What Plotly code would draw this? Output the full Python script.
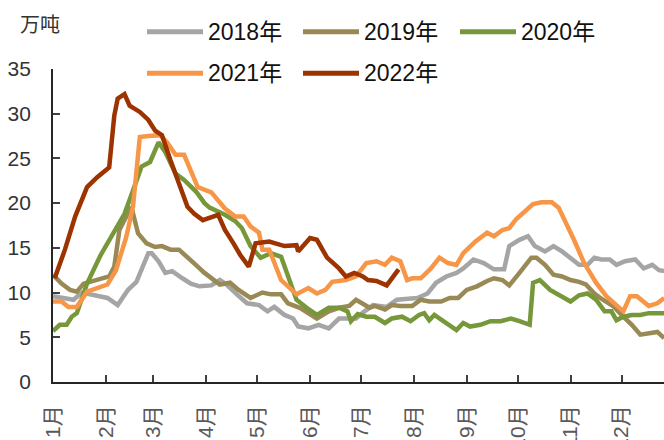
import pandas as pd
import plotly.graph_objects as go

# ---- data (day-of-year offset from 1 Jan, value in 万吨) ----
days_2018 = [0,6,12,17,26,32,38,44,49,56,58,62,66,70,76,81,86,93,98,102,108,114,121,126,130,136,141,144,150,156,162,168,174,178,183,188,196,202,214,220,225,231,237,241,247,253,259,265,268,274,279,283,289,294,299,304,309,314,318,322,327,331,336,342,347,352,356,359]
vals_2018 = [9.6,9.4,9.2,10.0,9.7,9.4,8.6,10.3,11.2,14.4,14.4,13.5,12.2,12.4,11.6,11.0,10.7,10.8,11.4,10.9,9.8,8.8,8.6,7.9,8.4,7.5,7.1,6.2,6.0,6.4,6.0,7.1,7.1,7.1,7.9,8.6,8.4,9.2,9.4,9.9,11.1,11.8,12.2,12.7,13.7,13.3,12.6,12.6,15.2,15.9,16.3,15.2,14.6,15.2,14.6,13.9,13.1,13.1,13.9,13.7,13.7,13.1,13.5,13.7,12.7,13.1,12.5,12.4]

days_2019 = [0,5,10,14,18,26,33,36,39,46,50,55,60,64,69,74,79,85,89,92,98,104,109,116,123,128,134,138,145,155,162,168,174,178,183,186,189,195,199,204,211,216,221,228,233,238,243,249,255,259,264,268,274,281,284,289,294,299,304,309,313,318,323,329,335,340,345,350,355,359]
vals_2019 = [12.0,11.0,10.3,10.1,11.0,11.4,11.8,12.9,17.0,19.6,16.6,15.5,15.1,15.2,14.8,14.8,14.0,12.9,12.2,11.8,10.9,11.1,10.3,9.4,10.0,9.8,9.8,8.8,8.3,7.1,7.9,8.3,8.5,9.2,8.6,8.3,8.5,8.1,8.6,8.5,8.5,9.2,9.0,9.0,9.4,9.4,10.3,10.7,11.3,11.6,11.4,10.8,12.2,13.9,13.9,13.1,12.0,11.8,11.4,11.2,10.9,9.9,9.2,8.5,7.3,6.4,5.3,5.5,5.6,4.9]

days_2020 = [0,4,8,11,14,20,28,36,42,47,52,57,62,66,72,77,84,89,92,101,107,111,116,122,128,134,138,143,149,155,162,168,173,175,179,184,189,195,199,205,210,215,218,221,224,231,237,241,245,251,257,263,269,274,280,282,286,292,298,304,309,314,319,324,328,331,335,340,345,350,359]
vals_2020 = [5.7,6.4,6.4,7.3,7.7,11.0,14.2,16.8,18.8,21.4,24.1,24.6,26.8,25.7,23.3,22.6,21.3,20.0,19.5,18.7,18.0,17.2,15.2,13.9,14.4,14.0,11.8,9.2,8.3,7.5,8.3,8.3,7.9,6.8,7.6,7.3,7.3,6.6,7.1,7.3,6.8,7.5,7.7,6.9,7.5,6.6,5.8,6.6,6.2,6.4,6.8,6.8,7.1,6.8,6.4,11.1,11.4,10.3,9.6,9.0,9.7,9.9,9.2,7.9,7.9,6.9,7.3,7.5,7.5,7.7,7.7]

days_2021 = [0,5,9,14,20,26,32,37,43,47,51,56,63,67,72,77,85,93,101,107,112,116,121,123,127,134,143,150,155,160,164,172,178,184,190,195,199,204,208,211,216,222,227,232,237,241,248,255,259,264,268,272,277,282,287,293,297,301,306,312,319,325,331,335,339,343,350,355,359]
vals_2021 = [9.0,9.0,8.4,8.4,10.1,10.5,10.9,12.5,16.2,19.6,27.4,27.5,27.6,26.8,25.4,25.4,21.8,21.2,19.4,18.5,18.5,17.4,16.7,14.8,14.8,11.4,9.8,10.5,9.9,10.3,11.2,11.4,11.8,13.3,13.5,13.1,13.9,13.5,11.4,11.6,11.6,12.7,13.9,13.3,13.1,14.4,15.7,16.7,16.3,17.0,17.2,18.2,19.1,19.9,20.1,20.1,19.5,18.0,15.9,13.3,11.1,9.6,8.5,7.9,9.6,9.6,8.5,8.8,9.4]

days_2022 = [1,7,13,20,26,33,36,38,42,45,51,56,60,64,69,74,79,83,88,97,101,106,110,115,119,127,136,143,144,151,155,161,168,172,177,182,185,190,196,203]
vals_2022 = [11.6,14.8,18.5,21.8,22.9,24.0,29.8,31.7,32.2,30.9,30.2,29.3,28.1,27.6,24.8,22.2,19.6,18.8,18.1,18.7,17.0,15.5,14.2,12.9,15.5,15.7,15.2,15.3,14.6,16.1,15.9,13.9,12.7,11.8,12.2,11.8,11.4,11.3,10.8,12.6]

series_names = ["2018年", "2019年", "2020年", "2021年", "2022年"]
series_colors = ["#A5A5A5", "#998A55", "#76983A", "#F79646", "#9C3300"]
month_labels = ["1月", "2月", "3月", "4月", "5月", "6月", "7月", "8月", "9月", "10月", "11月", "12月"]
y_ticks = [0, 5, 10, 15, 20, 25, 30, 35]
unit_label = "万吨"

# ---- figure ----
BASE = pd.Timestamp("2021-01-01")
W, H = 664, 440
ML, MR, MT, MB = 53, 0, 69, 58
FONT = "Arial, 'Liberation Sans', 'Noto Sans CJK SC', sans-serif"


def to_dates(days):
    return [BASE + pd.Timedelta(days=d) for d in days]


all_days = [days_2018, days_2019, days_2020, days_2021, days_2022]
all_vals = [vals_2018, vals_2019, vals_2020, vals_2021, vals_2022]

fig = go.Figure()
for name, color, d, v in zip(series_names, series_colors, all_days, all_vals):
    fig.add_trace(go.Scatter(
        x=to_dates(d), y=v, mode="lines", name=name,
        line=dict(color=color, width=4.5), showlegend=False,
    ))

month_starts = [pd.Timestamp(2021, m, 1) for m in range(1, 13)]
pw, ph = W - ML - MR, H - MT - MB


def px(x):
    return (x - ML) / pw


def py(y):
    return (H - MB - y) / ph


# custom legend (line swatch + label), two rows
legend_pos = [(147, 31.7), (303, 31.7), (460, 31.7), (147, 73.3), (303, 73.3)]
for (lx, ly), name, color in zip(legend_pos, series_names, series_colors):
    fig.add_shape(type="line", xref="paper", yref="paper",
                  x0=px(lx), x1=px(lx + 56), y0=py(ly), y1=py(ly),
                  line=dict(color=color, width=5))
    fig.add_annotation(xref="paper", yref="paper", x=px(lx + 59), y=py(ly),
                       text=name, showarrow=False, xanchor="left", yanchor="middle",
                       font=dict(size=23, color="#111111", family=FONT))

fig.add_annotation(xref="paper", yref="paper", x=px(39.5), y=py(25),
                   text=unit_label, showarrow=False, xanchor="center", yanchor="middle",
                   font=dict(size=20, color="#333333", family=FONT))

fig.update_layout(
    width=W, height=H,
    margin=dict(l=ML, r=MR, t=MT, b=MB, pad=0),
    paper_bgcolor="white", plot_bgcolor="white",
    font=dict(family=FONT),
    xaxis=dict(
        type="date",
        range=[BASE, BASE + pd.Timedelta(hours=358.9 * 24)],
        tickmode="array", tickvals=month_starts, ticktext=month_labels,
        tickangle=-90, ticks="inside", ticklen=7, tickwidth=1.5, tickcolor="#404040",
        showline=True, linecolor="#262626", linewidth=1.8,
        showgrid=False, zeroline=False, automargin=False,
        ticklabelstandoff=13,
        tickfont=dict(size=21, color="#595959", family=FONT),
    ),
    yaxis=dict(
        range=[0, 35], tickmode="array", tickvals=y_ticks,
        ticks="inside", ticklen=7, tickwidth=1.5, tickcolor="#404040",
        showline=True, linecolor="#262626", linewidth=1.8,
        showgrid=False, zeroline=False, automargin=False,
        ticklabelstandoff=16,
        tickfont=dict(size=21, color="#333333", family=FONT),
    ),
)

fig.write_html(
    "out.html",
    config={"displayModeBar": False},
    post_script="document.body.style.margin='0';document.body.style.overflow='hidden';",
)
